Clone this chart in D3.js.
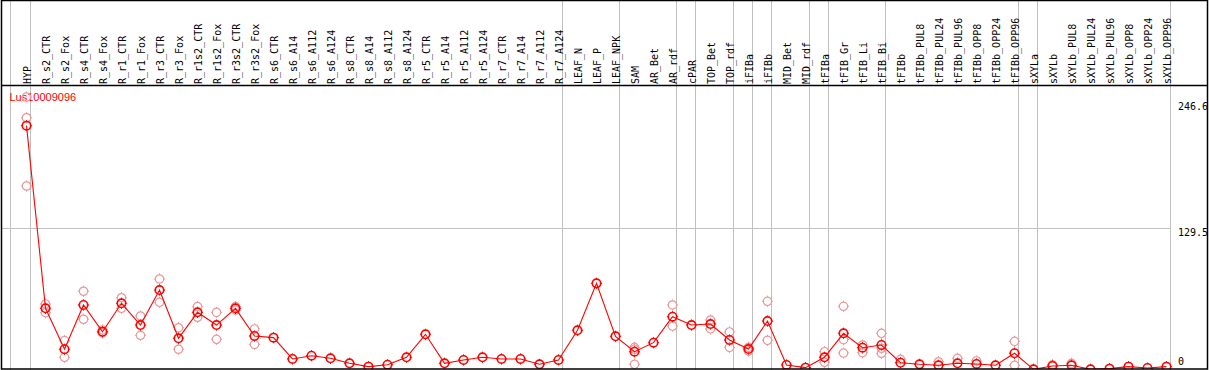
<!DOCTYPE html>
<html><head><meta charset="utf-8">
<script src="https://cdn.jsdelivr.net/npm/d3@7"></script>
<style>html,body{margin:0;padding:0;background:#fff;}svg{display:block;}</style>
</head><body>
<svg id="c" width="1209" height="370"></svg>
<script>
const title = "Lus10009096";
const categories = ["HYP","R_s2_CTR","R_s2_Fox","R_s4_CTR","R_s4_Fox","R_r1_CTR","R_r1_Fox","R_r3_CTR","R_r3_Fox","R_r1s2_CTR","R_r1s2_Fox","R_r3s2_CTR","R_r3s2_Fox","R_s6_CTR","R_s6_A14","R_s6_A112","R_s6_A124","R_s8_CTR","R_s8_A14","R_s8_A112","R_s8_A124","R_r5_CTR","R_r5_A14","R_r5_A112","R_r5_A124","R_r7_CTR","R_r7_A14","R_r7_A112","R_r7_A124","LEAF_N","LEAF_P","LEAF_NPK","SAM","AR_Bet","AR_rdf","cPAR","TOP_Bet","TOP_rdf","iFIBa","iFIBb","MID_Bet","MID_rdf","tFIBa","tFIB_Gr","tFIB_Li","tFIB_Bi","tFIBb","tFIBb_PUL8","tFIBb_PUL24","tFIBb_PUL96","tFIBb_OPP8","tFIBb_OPP24","tFIBb_OPP96","sXYLa","sXYLb","sXYLb_PUL8","sXYLb_PUL24","sXYLb_PUL96","sXYLb_OPP8","sXYLb_OPP24","sXYLb_OPP96"];
const means = [220.9,57.1,20.4,60.1,36.1,61.6,42.1,73.5,30.2,53.5,42.1,57.1,32.3,30.8,11.7,14.6,12.3,7.8,4.8,6.5,13.2,33.8,7.8,10.8,13.2,11.7,11.7,6.9,10.8,37.4,79.5,32.0,18.2,26.3,49.6,42.1,43.0,28.7,20.6,45.7,6.3,3.9,13.2,34.7,21.8,24.2,8.3,6.9,6.0,7.8,7.2,6.0,16.8,2.4,5.4,6.0,2.4,3.0,4.8,3.6,4.8];
const replicates = [[246.6,228.0,166.8],[61.0,53.2],[28.1,13.2],[72.4,47.3],[37.7,35.2],[66.6,57.1],[50.2,32.9],[83.4,62.5],[39.7,20.4],[58.6,49.1],[53.5,29.3],[58.6,55.6],[38.6,24.8],[],[],[],[],[],[],[],[],[],[],[],[],[],[],[],[],[],[],[],[22.1,20.4,6.9],[],[60.1,41.2],[],[46.6,38.6],[35.9,22.1],[22.1,18.8],[63.4,28.4],[],[],[18.2,8.7],[58.9,29.0,17.0],[24.2,17.3],[34.7,21.3,16.8],[11.4],[],[9.2],[12.3],[9.9],[],[27.5,6.0],[],[6.5],[7.8],[],[],[],[],[]];
const separatorsAfter = ["HYP","R_r7_A124","LEAF_NPK","AR_rdf","cPAR","TOP_rdf","iFIBa","iFIBb","MID_rdf","tFIBa","tFIB_Bi","tFIBb_OPP96","sXYLa","sXYLb_OPP96"];
const yTicks = [0,129.5,246.6];

const svg = d3.select("#c");
const W = 1209, H = 370;
const x = d3.scalePoint().domain(categories).range([26.5, 1166.5]);
const y = d3.scaleLinear().domain([0, 246.6]).range([372, 97]);

svg.append("defs").append("clipPath").attr("id","pc")
  .append("rect").attr("x",1).attr("y",86).attr("width",1207).attr("height",283);

// grid lines
svg.append("line").attr("x1",10.5).attr("x2",10.5).attr("y1",0).attr("y2",H).attr("stroke","#c0c0c0");
svg.selectAll("line.sep").data(separatorsAfter).enter().append("line").attr("class","sep")
  .attr("x1",d=>x(d)+4).attr("x2",d=>x(d)+4).attr("y1",0).attr("y2",H).attr("stroke","#c0c0c0");
svg.append("line").attr("x1",1).attr("x2",x("sXYLb_OPP96")+4).attr("y1",Math.round(y(129.5))+0.5).attr("y2",Math.round(y(129.5))+0.5).attr("stroke","#c0c0c0");

// header labels
svg.selectAll("text.cat").data(categories).enter().append("text").attr("class","cat")
  .attr("transform",d=>`translate(${x(d)+4},84) rotate(-90)`)
  .attr("font-family","DejaVu Sans Mono, monospace").attr("font-size","10px").attr("fill","#000")
  .text(d=>d);

// y labels
svg.selectAll("text.yt").data(yTicks).enter().append("text").attr("class","yt")
  .attr("x",1178).attr("y",d=>Math.min(Math.max(y(d)+1,103),358))
  .attr("dominant-baseline","hanging")
  .attr("font-family","DejaVu Sans Mono, monospace").attr("font-size","10px").attr("fill","#000")
  .text(d=>d3.format("~")(d));

// title
svg.append("text").attr("x",9.5).attr("y",101).attr("font-family","Liberation Sans, Arial, sans-serif")
  .attr("font-size","11px").attr("fill","#ff0000").text(title);

const plot = svg.append("g").attr("clip-path","url(#pc)");

function marker(g, cx, cy, color, sw){
  const m = g.append("g").attr("transform",`translate(${cx},${cy})`).attr("stroke",color).attr("fill","none").attr("stroke-width",sw);
  m.append("circle").attr("r",4.2);
  m.append("path").attr("d","M0,-4.2V-5.6M0,4.2V5.6M-4.2,0H-5.6M4.2,0H5.6").attr("stroke-width",1);
}

// replicates
const repPts = [];
replicates.forEach((arr,i)=>arr.forEach(v=>repPts.push({c:categories[i],v})));
repPts.forEach(p=>marker(plot, x(p.c), y(p.v), "#e89a9a", 1.2));

// line
const line = d3.line().x((d,i)=>x(categories[i])).y(d=>y(d));
plot.append("path").datum(means).attr("d",line).attr("fill","none").attr("stroke","#ff0000").attr("stroke-width",1.1);

// means
means.forEach((v,i)=>marker(plot, x(categories[i]), y(v), "#ff0000", 1.6));

// frame
svg.append("rect").attr("x",1.5).attr("y",0.5).attr("width",1206).attr("height",368.5).attr("fill","none").attr("stroke","#000").attr("stroke-width",1.5);
svg.append("line").attr("x1",1).attr("x2",1208).attr("y1",85.5).attr("y2",85.5).attr("stroke","#000").attr("stroke-width",1.5);
</script>
</body></html>
